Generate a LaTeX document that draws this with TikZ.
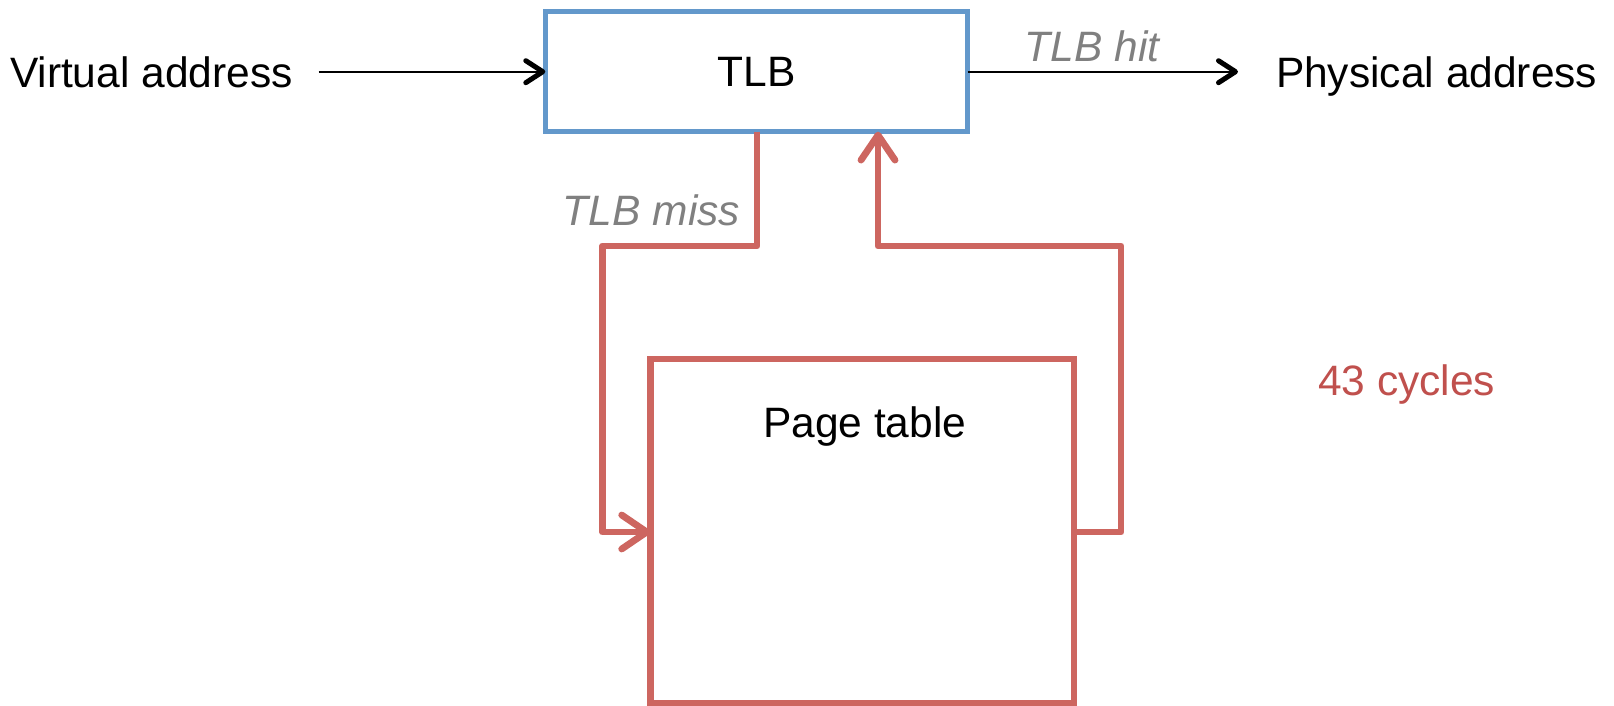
\documentclass[tikz,border=0pt]{standalone}
\usepackage{fontspec}
\setmainfont{Liberation Sans}
\usetikzlibrary{arrows.meta}
\definecolor{tlbblue}{HTML}{6398CB}
\definecolor{ptred}{HTML}{CD6660}
\definecolor{cyclered}{HTML}{C0504D}
\definecolor{lblgray}{HTML}{808080}

\begin{document}
\begin{tikzpicture}[x=1pt,y=-1pt,
  txt/.style={inner sep=0pt, outer sep=0pt, font=\fontsize{42.5}{50}\selectfont},
  note/.style={txt, text=lblgray, font=\fontsize{42.5}{50}\selectfont\itshape},
  tlbbox/.style={draw=tlbblue, line width=4.8pt, inner sep=0pt, outer sep=0pt,
    minimum width=422.4pt, minimum height=120pt, font=\fontsize{42.5}{50}\selectfont},
  ptbox/.style={draw=ptred, line width=6.8pt, inner sep=0pt, outer sep=0pt,
    minimum width=423.8pt, minimum height=344pt},
  blackarrow/.style={line width=1.8pt,
    -{Straight Barb[length=17pt,width=22pt,line width=5pt,round]}},
  redarrow/.style={draw=ptred, line width=6.8pt, line join=round,
    -{Straight Barb[length=25pt,width=34pt,line width=6.8pt,round]}}]
\useasboundingbox (0,0) rectangle (1614,706);

% boxes
\node[tlbbox] (tlb) at (756.5,71.7) {TLB};
\node[ptbox] (pt) at (862,531) {};

% texts
\node[txt, anchor=base west] (va) at (10,87.5) {Virtual address};
\node[txt, anchor=base west] (pa) at (1276,87.5) {Physical address};
\node[note, anchor=base] (hit) at (1092,62) {TLB hit};
\node[note, anchor=base east] (miss) at (740,225) {TLB miss};
\node[txt, anchor=base] (ptl) at (864.7,437) {Page table};
\node[txt, anchor=base west, text=cyclered] (cyc) at (1318,395) {43 cycles};

% address path
\draw[blackarrow, shorten <=26pt] (va.east |- tlb.west) -- (tlb.west);
\draw[blackarrow, shorten >=38pt] (tlb.east) -- (pa.west |- tlb.east);

% miss / refill loop
\coordinate (missdrop) at (757,246);
\coordinate (missleft) at (602.5,246);
\coordinate (retright) at (1121,246);
\coordinate (retup) at (878,246);
\coordinate (loopy) at (0,532);
\draw[redarrow] (missdrop |- tlb.south) -- (missdrop) -- (missleft)
  -- (missleft |- loopy) -- (pt.west |- loopy);
\draw[redarrow] (pt.east |- loopy) -- (retright |- loopy) -- (retright)
  -- (retup) -- (retup |- tlb.south);
\end{tikzpicture}
\end{document}
